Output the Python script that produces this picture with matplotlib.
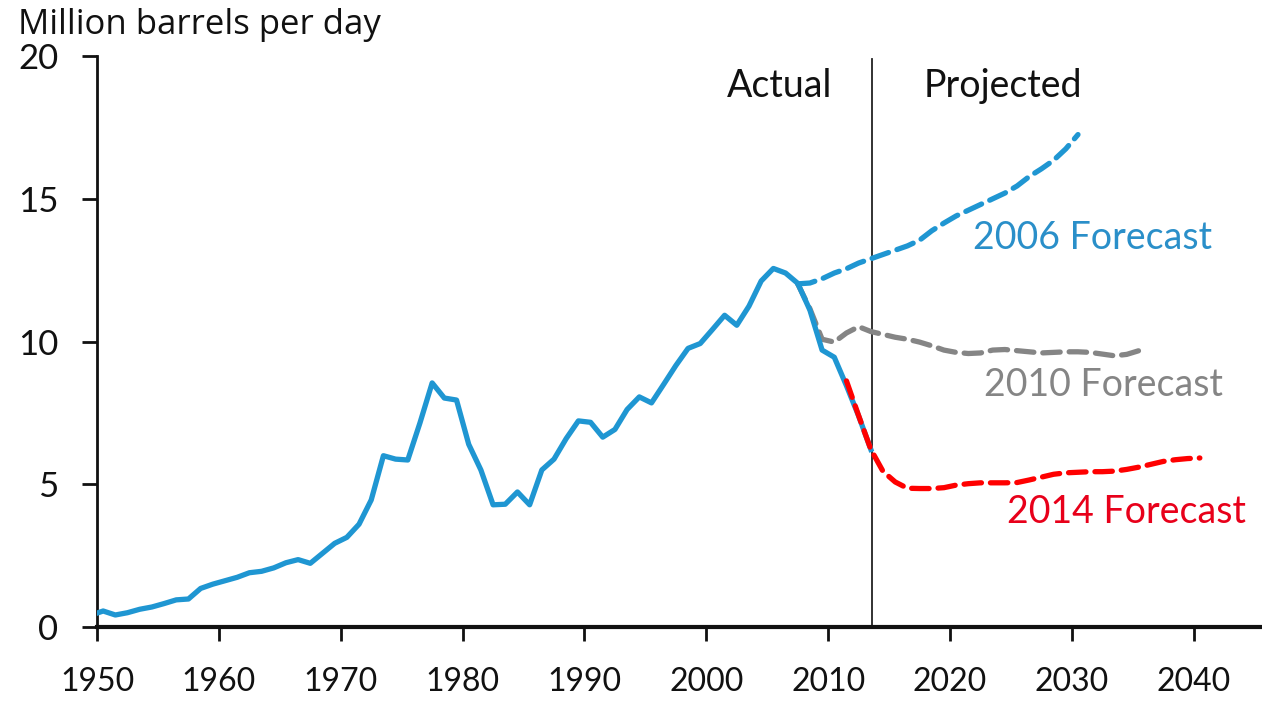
import matplotlib.pyplot as plt
import numpy as np

plt.rcParams["font.family"] = ["Lato", "DejaVu Sans"]

# annual values, million barrels per day
actual_years = list(range(1949, 2014))
actual = [
    0.41, 0.56, 0.42, 0.50, 0.62, 0.70, 0.82, 0.95, 0.98, 1.35,  # 1949-1958
    1.50, 1.62, 1.74, 1.90, 1.95, 2.07, 2.25, 2.36, 2.23, 2.58,  # 1959-1968
    2.93, 3.14, 3.60, 4.45, 6.00, 5.88, 5.85, 7.15, 8.55, 8.02,  # 1969-1978
    7.95, 6.40, 5.50, 4.28, 4.30, 4.73, 4.28, 5.50, 5.88, 6.60,  # 1979-1988
    7.22, 7.17, 6.65, 6.92, 7.62, 8.06, 7.85, 8.50, 9.16, 9.76,  # 1989-1998
    9.93, 10.42, 10.92, 10.57, 11.24, 12.12, 12.56, 12.40, 12.04, 11.10,  # 1999-2008
    9.70, 9.45, 8.45, 7.39, 6.22,  # 2009-2013
]

f2006_years = list(range(2007, 2031))
f2006 = [
    12.02, 12.05, 12.20, 12.40, 12.55, 12.75, 12.90, 13.05, 13.20, 13.35,
    13.55, 13.88, 14.15, 14.40, 14.60, 14.80, 15.00, 15.20, 15.45, 15.78,
    16.05, 16.35, 16.75, 17.25,
]

f2010_years = list(range(2007, 2036))
f2010 = [
    12.02, 11.15, 10.08, 9.98, 10.30, 10.52, 10.35, 10.25, 10.15, 10.08,
    9.98, 9.85, 9.70, 9.62, 9.58, 9.60, 9.70, 9.72, 9.68, 9.64,
    9.60, 9.62, 9.64, 9.64, 9.62, 9.56, 9.50, 9.55, 9.68,
]

f2014_years = list(range(2011, 2041))
f2014 = [
    8.62, 7.40, 6.22, 5.45, 5.08, 4.86, 4.85, 4.85, 4.88, 4.97,
    5.02, 5.05, 5.05, 5.05, 5.06, 5.15, 5.25, 5.35, 5.40, 5.42,
    5.44, 5.44, 5.46, 5.52, 5.60, 5.70, 5.80, 5.86, 5.90, 5.92,
]

BLUE = "#1f96d2"
GRAY = "#858585"
RED = "#ff0000"
DASH = (0, (3.3, 1.7))
INK = "#111111"

fig = plt.figure(figsize=(12.62, 7.01), dpi=100)
ax = fig.add_axes([0.0769, 0.1056, 0.9231, 0.8144])

# values are plotted at mid-year, as in the original category axis
mid = 0.5
ax.plot(np.array(f2010_years) + mid, f2010, color=GRAY, lw=3.8, ls=DASH, dash_capstyle="round", zorder=2)
ax.plot(np.array(actual_years) + mid, actual, color=BLUE, lw=3.8, solid_joinstyle="round", zorder=3)
ax.plot(np.array(f2006_years) + mid, f2006, color=BLUE, lw=3.8, ls=DASH, dash_capstyle="round", zorder=4)
ax.plot(np.array(f2014_years) + mid, f2014, color=RED, lw=3.8, ls=DASH, dash_capstyle="round", zorder=4)

ax.axvline(2013.6, ymin=0, ymax=0.995, color="#222222", lw=1.3, zorder=1)

ax.set_xlim(1950, 2045.6)
ax.set_ylim(0, 20)
ax.set_xticks(range(1950, 2041, 10))
ax.set_yticks([0, 5, 10, 15, 20])
ax.tick_params(axis="x", length=10, width=2, pad=19, labelsize=23, colors=INK)
ax.tick_params(axis="y", length=11, width=2, pad=17, labelsize=25, colors=INK)

for side in ("top", "right"):
    ax.spines[side].set_visible(False)
ax.spines["left"].set_linewidth(2)
ax.spines["bottom"].set_linewidth(3)
ax.spines["left"].set_color(INK)
ax.spines["bottom"].set_color(INK)

ax.text(2006.0, 18.95, "Actual", ha="center", va="center", fontsize=27, color=INK)
ax.text(2024.3, 18.95, "Projected", ha="center", va="center", fontsize=27, color=INK)
ax.text(2031.65, 13.63, "2006 Forecast", ha="center", va="center", fontsize=27, color="#2a8fc9")
ax.text(2032.6, 8.48, "2010 Forecast", ha="center", va="center", fontsize=27, color=GRAY)
ax.text(2034.5, 4.03, "2014 Forecast", ha="center", va="center", fontsize=27, color="#e8001a")

fig.text(0.0143, 0.965, "Million barrels per day", ha="left", va="center", fontsize=25,
         family=["Open Sans", "DejaVu Sans"], color=INK)

fig.savefig("out.png", dpi=100)
